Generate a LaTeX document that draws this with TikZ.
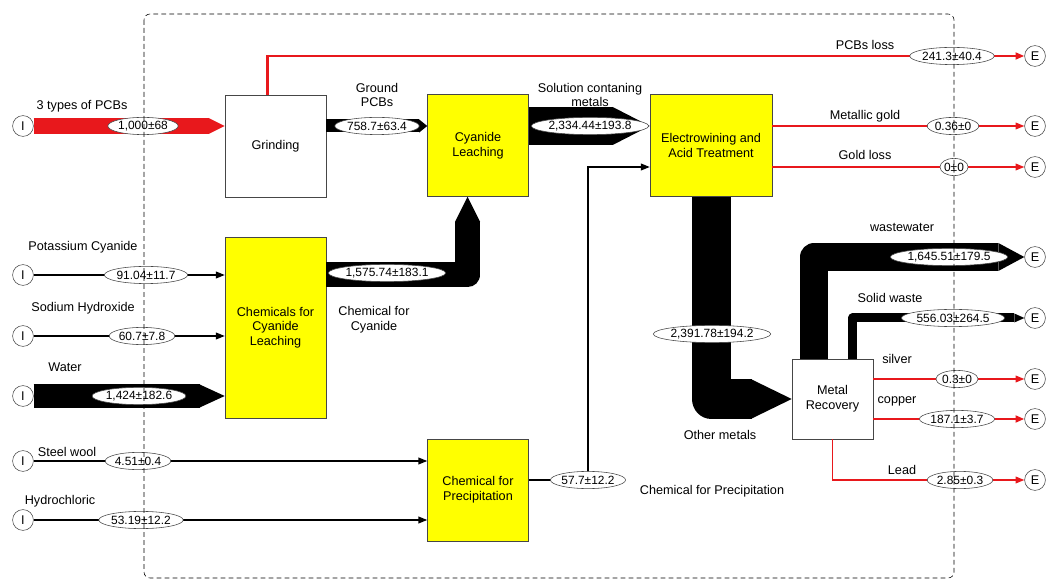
\documentclass[tikz,border=0pt]{standalone}
\usepackage{fontspec}
\setmainfont{Liberation Sans}
\usetikzlibrary{arrows.meta, shapes.geometric, positioning}
\definecolor{FlowRed}{RGB}{232,24,28}
\definecolor{BoxYellow}{RGB}{255,255,0}
\definecolor{EdgeGray}{RGB}{70,70,70}

\begin{document}
\begin{tikzpicture}[x=0.25mm, y=-0.25mm,
    font=\fontsize{9}{10.5}\selectfont,
    proc/.style={draw=EdgeGray, thin, minimum width=25.25mm, minimum height=25.5mm, align=center, inner sep=1pt},
    chem/.style={proc, fill=BoxYellow},
    term/.style={draw=EdgeGray, circle, minimum size=5.2mm, inner sep=0pt, fill=white},
    val/.style={draw=EdgeGray, ellipse, fill=white, inner xsep=0pt, inner ysep=0pt, minimum height=4.3mm, font=\fontsize{8.5}{10}\selectfont},
    tag/.style={align=center, inner sep=0pt},
    flow/.style={black, line width=0.3mm, -{Triangle[length=2.2mm, width=1.7mm]}},
    redflow/.style={flow, FlowRed},
    band/.style 2 args={line width=#1, line join=round, -{Triangle[length=#2, width=#1, line width=0pt]}}]
  \useasboundingbox (0,0) rectangle (1046,580);

  % sources and sinks
  \node[term] (i1) at (23,126) {I};
  \node[term] (i2) at (23,275) {I};
  \node[term] (i3) at (23,336) {I};
  \node[term] (i4) at (23,396) {I};
  \node[term] (i5) at (23,461) {I};
  \node[term] (i6) at (23,520) {I};
  \node[term] (e1) at (1035,56) {E};
  \node[term] (e2) at (1035,126) {E};
  \node[term] (e3) at (1035,167) {E};
  \node[term] (e4) at (1035,257) {E};
  \node[term] (e5) at (1035,318) {E};
  \node[term] (e6) at (1035,379) {E};
  \node[term] (e7) at (1035,419) {E};
  \node[term] (e8) at (1035,480) {E};

  % processes
  \node[proc] (grind) at (275.5,146) {Grinding};
  \node[chem] (leach) at (478,145.5) {Cyanide\\Leaching};
  \node[chem, minimum width=30.5mm] (elec) at (711,145.5) {Electrowining and\\Acid Treatment};
  \node[chem, minimum height=45.25mm] (chemcy) at (275.5,327.5) {Chemicals for\\Cyanide\\Leaching};
  \node[chem] (chempr) at (478,490) {Chemical for\\Precipitation};
  \node[proc, minimum width=20.25mm, minimum height=20mm] (recov) at (832.5,399) {Metal\\Recovery};
  \coordinate (pr) at (588,480);

  % wide flows
  \draw[band={4mm}{4mm}, FlowRed] (i1) -- (i1 -| grind.west);
  \draw[band={5.75mm}{6.25mm}] (i4) -- (i4 -| chemcy.west);
  \draw[band={3.25mm}{2mm}] (grind.east |- i1) -- (leach.west |- i1);
  \draw[band={9.5mm}{9.25mm}] (leach.east |- i1) -- (elec.west |- i1);
  \draw[band={6.25mm}{6.25mm}] (chemcy.east |- i2) -| ([xshift=-2.6mm]leach.south);
  \draw[band={9.75mm}{10mm}] (elec.south) |- (recov.west);
  \draw[band={7mm}{6.5mm}] ([xshift=-4.6mm]recov.north) |- (e4);
  \draw[band={2.25mm}{2.5mm}] ([xshift=5.1mm]recov.north) |- (e5);

  % thin flows
  \draw[flow] (i2) -- (i2 -| chemcy.west);
  \draw[flow] (i3) -- (i3 -| chemcy.west);
  \draw[flow] (i5) -- (i5 -| chempr.west);
  \draw[flow] (i6) -- (i6 -| chempr.west);
  \draw[black, line width=0.3mm] (chempr.east |- pr) -- (pr);
  \draw[flow] (pr) |- (elec.west |- e3);
  \draw[redflow, line width=0.7mm] ([xshift=-2.1mm]grind.north) |- (e1);
  \draw[redflow] (elec.east |- e2) -- (e2);
  \draw[redflow] (elec.east |- e3) -- (e3);
  \draw[redflow] (recov.east |- e6) -- (e6);
  \draw[redflow, line width=0.6mm] (recov.east |- e7) -- (e7);
  \draw[redflow] (recov.south) |- (e8);

  % values
  \node[val] (v1) at (143,126) {1,000±68};
  \node[val] (v2) at (377,126) {758.7±63.4};
  \node[val] (v3) at (590,126) {2,334.44±193.8};
  \node[val] (v4) at (952,56) {241.3±40.4};
  \node[val] (v5) at (953,126) {0.36±0};
  \node[val] (v6) at (954,167) {0±0};
  \node[val] (v7) at (146,275) {91.04±11.7};
  \node[val] (v8) at (142,336) {60.7±7.8};
  \node[val] (v9) at (139,396) {1,424±182.6};
  \node[val] (v10) at (387,273) {1,575.74±183.1};
  \node[val] (v11) at (138,461) {4.51±0.4};
  \node[val] (v12) at (141,520) {53.19±12.2};
  \node[val] (v13) at (pr) {57.7±12.2};
  \node[val] (v14) at (712,334) {2,391.78±194.2};
  \node[val] (v15) at (949,257) {1,645.51±179.5};
  \node[val] (v16) at (953,318) {556.03±264.5};
  \node[val] (v17) at (957,379) {0.3±0};
  \node[val] (v18) at (957,419) {187.1±3.7};
  \node[val] (v19) at (960,480) {2.85±0.3};

  % flow names
  \node[tag] (l1) at (82,106) {3 types of PCBs};
  \node[tag] (l2) at (377,95) {Ground\\PCBs};
  \node[tag] (l3) at (590,95) {Solution contaning\\metals};
  \node[tag] (l4) at (865,45) {PCBs loss};
  \node[tag] (l5) at (865,116) {Metallic gold};
  \node[tag] (l6) at (865,155) {Gold loss};
  \node[tag] (l7) at (83,247) {Potassium Cyanide};
  \node[tag] (l8) at (83,308) {Sodium Hydroxide};
  \node[tag] (l9) at (65,367) {Water};
  \node[tag] (l10) at (374,320) {Chemical for\\Cyanide};
  \node[tag] (l11) at (67,452) {Steel wool};
  \node[tag] (l12) at (60,501) {Hydrochloric};
  \node[tag] (l13) at (712,491) {Chemical for Precipitation};
  \node[tag] (l14) at (720,435) {Other metals};
  \node[tag] (l15) at (902,227) {wastewater};
  \node[tag] (l16) at (890,298) {Solid waste};
  \node[tag] (l17) at (897,359) {silver};
  \node[tag] (l18) at (897,401) {copper};
  \node[tag] (l19) at (902,470) {Lead};

  % system boundary
  \draw[black, thin, dash pattern=on 1.2mm off 0.8mm, rounded corners=1.5mm] (144,14) rectangle (954,578);
\end{tikzpicture}
\end{document}
